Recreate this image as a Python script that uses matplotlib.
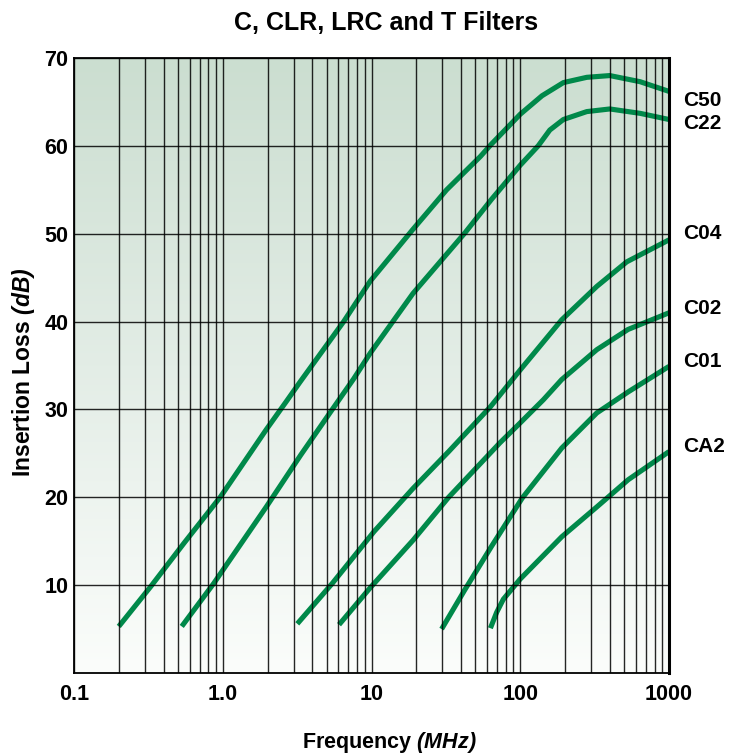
import matplotlib
matplotlib.use("Agg")
import matplotlib.pyplot as plt
from matplotlib.colors import LinearSegmentedColormap
import numpy as np

plt.rcParams["font.family"] = ["Liberation Sans", "DejaVu Sans"]
plt.rcParams["font.weight"] = "bold"
plt.rcParams["mathtext.fontset"] = "custom"
plt.rcParams["mathtext.rm"] = "Liberation Sans:italic:bold"
plt.rcParams["mathtext.it"] = "Liberation Sans:italic:bold"

# values (frequency in MHz, loss in dB)
c50_freq = [0.2, 0.33, 0.55, 0.97, 1.96, 2.7, 3.3, 6.5, 9.8, 19, 32, 54, 64, 100, 140, 195, 280, 400, 640, 1000]
c50_loss = [5.3, 9.9, 14.8, 20.1, 27.7, 31.0, 33.1, 40.0, 44.6, 50.5, 55.0, 58.8, 60.2, 63.6, 65.7, 67.2, 67.8, 68.0, 67.3, 66.2]

c22_freq = [0.53, 0.87, 1.96, 3.34, 5.45, 7.6, 9.8, 19, 42.5, 64, 100, 132, 158, 195, 280, 400, 640, 1000]
c22_loss = [5.3, 10.2, 18.9, 24.8, 30.0, 33.5, 36.4, 43.2, 50.1, 53.9, 57.8, 60.0, 61.8, 63.0, 63.9, 64.2, 63.7, 63.0]

c04_freq = [3.17, 5.45, 10.4, 19, 33, 63, 100, 190, 327, 520, 1000]
c04_loss = [5.6, 10.2, 16.1, 21.0, 25.2, 30.3, 34.5, 40.2, 44.0, 46.8, 49.3]

c02_freq = [6.05, 9.8, 19, 33, 73, 95, 143, 190, 327, 530, 1000]
c02_loss = [5.5, 9.7, 15.1, 20.0, 26.2, 28.1, 31.1, 33.4, 36.8, 39.1, 41.0]

c01_freq = [29.6, 42.5, 64, 103, 190, 327, 532, 1000]
c01_loss = [5.0, 9.5, 14.4, 19.9, 25.6, 29.6, 32.0, 34.9]

ca2_freq = [63, 69.4, 77, 100, 190, 327, 532, 1000]
ca2_loss = [5.1, 6.9, 8.4, 10.7, 15.5, 18.9, 22.0, 25.2]

series_names = ["C50", "C22", "C04", "C02", "C01", "CA2"]
label_pos = [65.2, 62.6, 50.0, 41.5, 35.4, 25.8]

x_ticks = [0.1, 1, 10, 100, 1000]
x_tick_labels = ["0.1", "1.0", "10", "100", "1000"]
y_ticks = [10, 20, 30, 40, 50, 60, 70]

green = "#00894a"

fig = plt.figure(figsize=(7.39, 7.55), dpi=100)
ax = fig.add_axes([74 / 739, 82 / 755, 595 / 739, 615 / 755])

# background gradient, light at the bottom, pale green at the top
cmap = LinearSegmentedColormap.from_list("bg", ["#fbfdfb", "#e3ede6", "#cbded0"])
grad = np.linspace(0, 1, 256).reshape(-1, 1)
ax.imshow(grad, extent=[0, 1, 0, 1], transform=ax.transAxes, aspect="auto",
          cmap=cmap, origin="lower", zorder=0)

all_freq = [c50_freq, c22_freq, c04_freq, c02_freq, c01_freq, ca2_freq]
all_loss = [c50_loss, c22_loss, c04_loss, c02_loss, c01_loss, ca2_loss]
for fr, lo in zip(all_freq, all_loss):
    ax.plot(fr, lo, color=green, lw=3.7, solid_capstyle="butt",
            solid_joinstyle="round", zorder=2)

ax.set_xscale("log")
ax.set_xlim(0.1, 1000)
ax.set_ylim(0, 70)

ax.set_xticks(x_ticks)
ax.set_xticklabels(x_tick_labels)
ax.set_xticks([m * 10.0 ** d for d in range(-1, 3) for m in range(2, 10)], minor=True)
ax.xaxis.set_minor_formatter(plt.NullFormatter())
ax.set_yticks(y_ticks)

ax.set_axisbelow(False)
ax.grid(True, which="both", axis="x", color="black", lw=1.0, alpha=0.85)
ax.grid(True, which="major", axis="y", color="black", lw=1.0, alpha=0.85)

ax.tick_params(axis="both", which="both", length=0, labelsize=15.5)
ax.tick_params(axis="x", pad=8)
ax.tick_params(axis="y", pad=4)

for s in ax.spines.values():
    s.set_linewidth(1.3)
    s.set_zorder(3)
ax.spines["right"].set_linewidth(2.2)

for name, yv in zip(series_names, label_pos):
    ax.text(1.0235, yv, name, transform=ax.get_yaxis_transform(),
            fontsize=15, fontweight="bold", ha="left", va="center")

fig.text(386 / 739, 1 - 30 / 755, "C, CLR, LRC and T Filters", fontsize=18,
         fontweight="bold", ha="center", va="baseline")
fig.text(389 / 739, 1 - 748 / 755, r"Frequency $(MHz)$", fontsize=15.5,
         ha="center", va="baseline")
fig.text(24 / 739, 1 - 372 / 755, r"Insertion Loss $(dB)$", fontsize=16.5,
         ha="center", va="center", rotation=90)

fig.savefig("out.png", dpi=100)
